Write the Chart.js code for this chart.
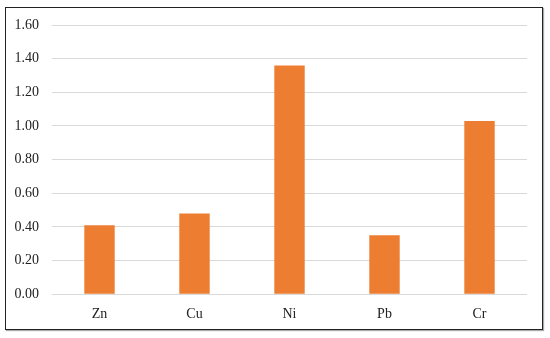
<!DOCTYPE html>
<html>
<head>
<meta charset="utf-8">
<script src="https://cdn.jsdelivr.net/npm/chart.js@4"></script>
<style>
  html, body { margin: 0; padding: 0; background: #fff; }
  #wrap { position: relative; width: 550px; height: 338px; }
  #frame {
    position: absolute; left: 5px; top: 7px; width: 536px; height: 321px;
    border: 1.5px solid #222; box-shadow: 1px 1px 1px #aaa;
  }
  canvas { position: absolute; left: 0; top: 0; }
</style>
</head>
<body>
<div id="wrap">
  <div id="frame"></div>
  <canvas id="grafico" width="550" height="338"></canvas>
</div>
<script>
// valores
const categorias = ["Zn", "Cu", "Ni", "Pb", "Cr"];
const valores = [0.41, 0.48, 1.36, 0.35, 1.03];
const ticksY = [0, 0.2, 0.4, 0.6, 0.8, 1.0, 1.2, 1.4, 1.6];

const ctx = document.getElementById("grafico").getContext("2d");
const fonte = { family: "'Liberation Serif', 'DejaVu Serif', serif", size: 14 };

new Chart(ctx, {
    type: "bar",
    data: {
        labels: categorias,
        datasets: [{
            data: valores,
            backgroundColor: "#ED7D31",
            categoryPercentage: 1,
            barPercentage: 0.32
        }]
    },
    options: {
        responsive: false,
        animation: false,
        layout: { padding: { top: 25, right: 23, bottom: 3, left: 0 } },
        plugins: { legend: { display: false }, tooltip: { enabled: false } },
        scales: {
            x: {
                grid: { display: false, drawTicks: false },
                border: { display: false },
                ticks: { font: fonte, color: "#222", padding: 12 }
            },
            y: {
                min: 0,
                max: 1.6,
                afterFit: scale => { scale.width = 52; },
                afterBuildTicks: scale => { scale.ticks = ticksY.map(v => ({ value: v })); },
                grid: { color: "#d9d9d9", lineWidth: 1, drawTicks: false },
                border: { display: false },
                ticks: {
                    font: fonte,
                    color: "#222",
                    padding: 13,
                    callback: v => Number(v).toFixed(2)
                }
            }
        }
    }
});
</script>
</body>
</html>
